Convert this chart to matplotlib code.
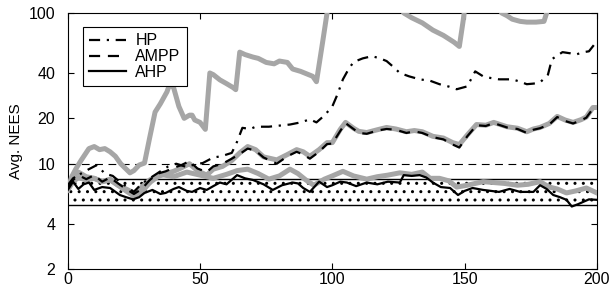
import matplotlib
matplotlib.use("Agg")
import matplotlib.pyplot as plt
from matplotlib.ticker import FixedLocator, NullLocator

plt.rcParams['font.family'] = ['Liberation Sans', 'DejaVu Sans']
plt.rcParams['hatch.linewidth'] = 1.0

# gray curves (thick)
gray_top_t = [0, 1.5, 3, 5, 8, 10, 12, 14, 16, 18, 20, 23.5, 25, 27, 29, 31, 33, 35, 37.5, 38.5, 40, 42, 44, 46, 47, 48, 50, 52,
              53.7, 55, 57.5, 60, 62.5, 63.5, 65, 67, 70, 72, 75, 78, 80, 83, 85, 88, 92.6, 94, 96.5, 98, 100, 110, 120, 127,
              130, 134, 138, 142, 146, 148, 149.5, 151, 160, 164, 166, 168, 171, 173.5, 177, 180, 181, 183, 190, 200]
gray_top_v = [6.8, 8.2, 9.2, 10.5, 12.6, 13.0, 12.4, 12.6, 12.0, 11.2, 10.0, 8.7, 9.0, 9.8, 10.1, 15, 22, 25, 30, 33.6, 32, 24, 20, 21, 21, 19.5, 18.8, 16.9,
              40, 39, 36, 34, 32, 31, 55, 53, 51, 50, 47, 46, 48, 47, 42.5, 41, 38, 35, 67, 100, 150, 200, 180, 100,
              93, 86, 77, 71, 64, 60, 90, 150, 200, 100, 96, 91, 88, 87, 87, 88, 100, 150, 200, 200]

gray_mid_t = [0, 2, 4, 7, 10, 13, 16, 19, 22, 25, 28, 31, 34, 37, 40, 43, 46, 49, 52.5, 55, 58.5, 62, 65, 68, 71, 74, 77, 79,
              83, 86.5, 89, 91.5, 95, 98, 100, 103, 105, 108, 110, 113, 117, 120.5, 124, 128, 131, 134, 138, 142, 145.5, 148,
              151, 154.5, 158, 161, 166, 170, 173.5, 176, 178.5, 182, 185, 188, 191, 194, 196, 198.5, 200]
gray_mid_v = [6.8, 8.3, 8.8, 8.2, 8.0, 7.6, 7.8, 7.2, 6.6, 6.1, 6.5, 7.5, 8.2, 8.6, 8.9, 9.4, 10.0, 9.0, 8.4, 9.2, 9.6, 10.5, 11.8, 13.0, 12.4, 11.1, 10.8, 10.6,
              11.5, 12.4, 12.0, 11.2, 12.4, 13.8, 13.8, 16.9, 18.8, 17.2, 16.4, 16.1, 16.8, 17.4, 17.0, 16.3, 16.6, 16.3, 15.2, 14.8, 13.8, 13.4,
              15.5, 18.2, 18.0, 18.8, 17.6, 17.2, 16.3, 17.0, 17.4, 18.5, 20.6, 19.5, 18.8, 19.6, 20.4, 23.6, 23.6]

gray_low_t = [0, 2, 4, 7, 10, 13, 16, 19, 22, 25, 28, 31, 35, 40, 45, 50, 55, 60, 64, 68, 72, 76, 80, 84, 87, 90, 93,
              97, 100, 104, 108, 113, 117, 121, 125.5, 130, 134, 137, 140.5, 144, 147, 151, 157, 161, 165, 170, 174, 178.5,
              182, 185, 188.5, 192, 196, 200]
gray_low_v = [6.7, 7.6, 8.1, 7.8, 8.0, 7.6, 7.9, 7.2, 6.8, 6.4, 7.0, 7.8, 8.5, 8.2, 8.8, 8.4, 8.0, 8.5, 9.0, 9.2, 8.6, 7.9, 8.3, 9.2, 8.6, 7.8, 7.2,
              7.9, 8.3, 8.9, 8.3, 7.9, 8.2, 8.4, 8.7, 8.5, 8.8, 8.0, 8.0, 7.7, 7.0, 7.2, 7.6, 7.5, 7.4, 7.2, 7.3, 7.6,
              7.0, 6.8, 6.4, 6.6, 6.9, 6.4]

# black curves
hp_t = [0, 2, 5, 8, 11, 14, 17, 20, 23, 25, 28, 31, 35, 38, 41, 45, 48, 51, 55, 58, 60, 62, 64, 66, 69, 71, 76, 80, 84,
        88, 91.5, 94, 97, 100, 102, 104, 106, 108, 111.5, 115, 118, 120.5, 123, 125.5, 129, 133, 137, 140.5, 144, 147,
        151, 154, 157, 160, 163, 168, 171, 173.5, 176, 178.5, 181.5, 183, 187, 190, 192, 195, 197, 200]
hp_v = [7.0, 7.8, 8.6, 9.2, 9.8, 8.6, 8.3, 7.5, 6.9, 6.5, 7.4, 8.0, 8.9, 9.6, 10.0, 9.5, 9.9, 10.1, 11.0, 11.2, 11.5, 11.8, 14.0, 17.3, 17.0, 17.6, 17.6, 17.9, 18.2,
        18.8, 19.7, 18.8, 20.9, 24, 29, 36.3, 42, 47.3, 50, 51.7, 50, 48, 44, 40, 38, 36.3, 35.5, 33.7, 32.5, 31.2,
        32.6, 41, 38, 37, 36.3, 36.3, 35, 33.7, 34, 34.6, 39, 49.4, 55, 54, 53, 55, 55.7, 65]

ampp_t = [0, 2, 4, 7, 10, 13, 16, 19, 22, 25, 28, 31, 34, 37, 40, 43, 46, 49, 52.5, 55, 58.5, 62, 65, 68, 71, 74, 77, 79,
          83, 86.5, 89, 91.5, 95, 98, 100, 103, 105, 108, 110, 113, 117, 120.5, 124, 128, 131, 134, 138, 142, 145.5, 148,
          151, 154.5, 158, 161, 166, 170, 173.5, 176, 178.5, 182, 185, 188, 191, 194, 196, 198.5, 200]
ampp_v = [7.2, 8.0, 8.4, 7.9, 8.4, 7.6, 8.1, 7.4, 6.8, 6.3, 6.8, 7.8, 8.6, 8.9, 9.4, 9.8, 10.4, 9.3, 8.8, 9.6, 10.0, 10.8, 11.6, 12.6, 12.2, 11.0, 10.4, 10.0,
          11.2, 12.0, 11.5, 10.8, 12.0, 13.5, 13.6, 16.5, 18.6, 17.0, 16.0, 15.8, 16.6, 17.0, 16.8, 16.0, 16.4, 16.0, 15.0, 14.5, 13.4, 12.8,
          15.2, 18.0, 17.8, 18.6, 17.4, 17.0, 16.0, 16.8, 17.2, 18.2, 20.4, 19.2, 18.5, 19.4, 20.2, 23.2, 23.6]

ahp_t = [0, 2, 4, 6, 8, 10, 13, 16, 19.7, 22, 24.7, 27, 29, 32, 35, 37, 40, 42, 45, 47, 50, 52.5, 55, 57.5, 60, 64,
         67, 70, 74, 77.5, 81, 85, 87, 89, 91.5, 95, 98, 100, 103, 105.5, 109, 113, 117, 121, 125.5, 127, 130, 133,
         135.5, 138, 141, 144.5, 147.5, 150, 153, 157, 160, 163, 167, 171, 176, 178.5, 181, 183.5, 186, 188.5, 190.5,
         193, 195, 197, 200]
ahp_v = [6.7, 7.6, 6.8, 7.3, 7.5, 6.7, 7.0, 6.9, 6.2, 6.0, 5.8, 6.0, 6.4, 6.7, 6.3, 6.4, 6.8, 7.0, 6.6, 6.5, 6.9, 6.7, 7.1, 7.5, 7.3, 8.4,
         8.0, 7.8, 7.3, 6.7, 7.2, 7.5, 7.4, 6.9, 6.5, 7.6, 7.0, 7.2, 7.6, 7.5, 7.1, 7.5, 7.3, 7.6, 7.5, 8.4, 8.3, 8.4,
         8.1, 7.5, 7.0, 6.9, 6.2, 6.6, 6.9, 6.7, 6.6, 6.5, 6.8, 6.5, 6.5, 7.2, 6.8, 6.2, 6.0, 5.76, 5.2, 5.4, 5.6, 5.8, 5.76]

# reference levels
ref_dashed = 10.0
band_low = 5.3
band_high = 7.9

x_ticks = [0, 50, 100, 150, 200]
y_ticks = [2, 4, 10, 20, 40, 100]

fig = plt.figure(figsize=(6.16, 2.89), dpi=100)
ax = fig.add_axes([0.110, 0.069, 0.859, 0.886])

ax.fill_between([0, 200], band_low, band_high, facecolor='none', edgecolor='black', hatch='..', linewidth=0, zorder=1)
ax.axhline(band_low, color='black', lw=1.0, zorder=2)
ax.axhline(band_high, color='black', lw=1.0, zorder=2)
ax.axhline(ref_dashed, color='black', lw=0.8, dashes=(7, 5), zorder=2)

gray = '#a6a6a6'
for t, v in [(gray_top_t, gray_top_v), (gray_mid_t, gray_mid_v), (gray_low_t, gray_low_v)]:
    ax.plot(t, v, color=gray, lw=3.6, solid_joinstyle='round', zorder=3)

ax.plot(hp_t, hp_v, color='black', lw=1.6, dashes=(5, 3, 1, 3), label='HP', zorder=4)
ax.plot(ampp_t, ampp_v, color='black', lw=1.6, dashes=(5, 3.5), label='AMPP', zorder=4)
ax.plot(ahp_t, ahp_v, color='black', lw=1.6, label='AHP', zorder=4)

ax.set_yscale('log')
ax.set_xlim(0, 200)
ax.set_ylim(2, 100)
ax.yaxis.set_major_locator(FixedLocator(y_ticks))
ax.yaxis.set_minor_locator(NullLocator())
ax.set_yticklabels([str(y) for y in y_ticks])
ax.set_xticks(x_ticks)
ax.tick_params(direction='in', length=4, width=0.8, top=True, right=True, labelsize=11.5)
ax.tick_params(axis='y', pad=9)
ax.tick_params(axis='x', pad=2)
ax.set_ylabel('Avg. NEES', fontsize=11, labelpad=4)

leg = ax.legend(loc='upper left', bbox_to_anchor=(0.028, 0.945), fontsize=11.5, frameon=True, fancybox=False,
                edgecolor='black', handlelength=2.3, borderpad=0.4, labelspacing=0.05, handletextpad=0.6,
                borderaxespad=0.0)
leg.get_frame().set_linewidth(0.8)
leg.get_frame().set_alpha(1)

for s in ax.spines.values():
    s.set_linewidth(0.8)

fig.savefig('out.png', dpi=100)
